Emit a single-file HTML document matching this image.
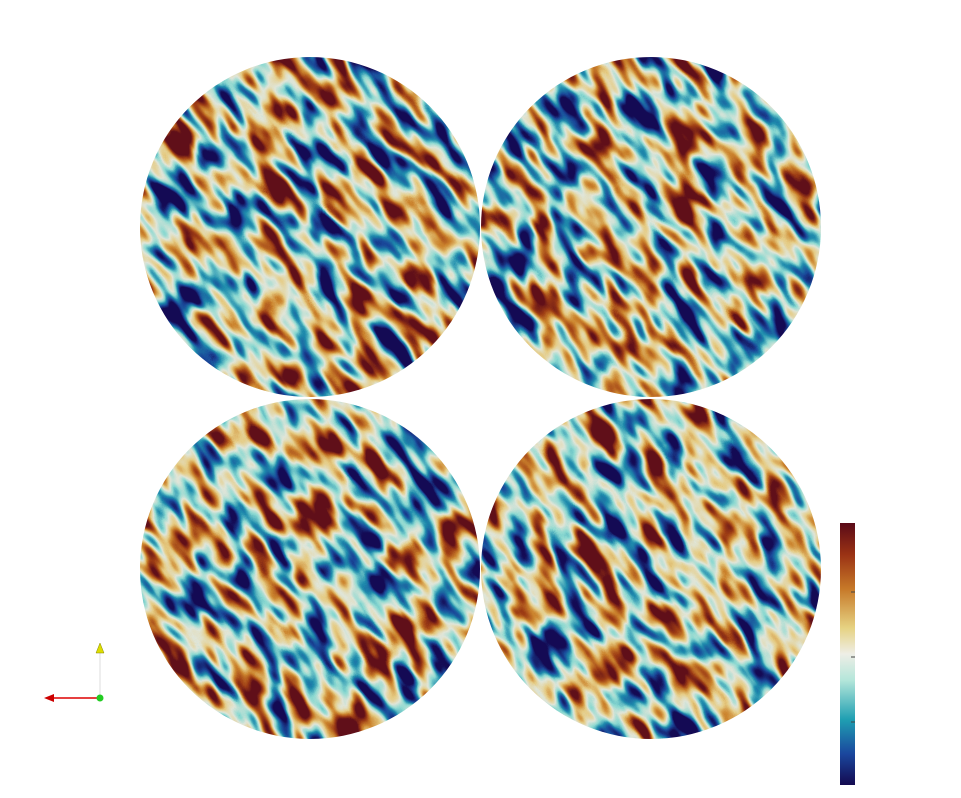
<!DOCTYPE html>
<html><head><meta charset="utf-8"><style>
html,body{margin:0;padding:0;background:#fff;width:961px;height:798px;overflow:hidden}
svg{display:block;overflow:hidden}
</style></head><body>
<svg width="961" height="798" viewBox="0 0 961 798">
<defs>
<linearGradient id="cmap" x1="0" y1="1" x2="0" y2="0">
<stop offset="0" stop-color="#140a50"/><stop offset="0.12" stop-color="#1a479e"/>
<stop offset="0.25" stop-color="#1f9fb2"/><stop offset="0.4" stop-color="#b4e6da"/>
<stop offset="0.5" stop-color="#eeeee6"/><stop offset="0.6" stop-color="#e6d282"/>
<stop offset="0.75" stop-color="#c67828"/><stop offset="0.88" stop-color="#9a3214"/>
<stop offset="1" stop-color="#5a0a18"/>
</linearGradient>
</defs>
<g id="disks"></g>
<g>
<rect x="840" y="523" width="15" height="262" fill="url(#cmap)"/>
<g stroke="#444" stroke-width="1">
<line x1="851" y1="592" x2="855" y2="592"/><line x1="851" y1="657" x2="855" y2="657"/><line x1="851" y1="722" x2="855" y2="722"/>
</g>
</g>
<g>
<line x1="100" y1="698" x2="52" y2="698" stroke="#d00" stroke-width="1.5"/>
<polygon points="44,698 54,694 54,702" fill="#c00"/>
<line x1="100" y1="698" x2="100" y2="652" stroke="#ddd" stroke-width="1"/>
<polygon points="100,643 96,653 104,653" fill="#dd0" stroke="#880" stroke-width="0.5"/>
<circle cx="100" cy="698" r="3.5" fill="#2c2"/>
</g>
</svg>
<script>
const diskCenters=[[310,227],[651,227],[310,569],[651,569]];
const seeds=[3,11,27,42];
const radius=170;
const ns="http://www.w3.org/2000/svg";
const defs=document.querySelector('defs');
const g=document.getElementById('disks');
const R="0.08 0.10 0.12 0.55 0.88 0.90 0.80 0.62 0.38";
const G="0.04 0.28 0.55 0.85 0.90 0.80 0.52 0.24 0.06";
const B="0.33 0.60 0.68 0.82 0.85 0.52 0.18 0.08 0.10";
const H=180;
diskCenters.forEach((c,i)=>{
  const [cx,cy]=c;
  defs.insertAdjacentHTML('beforeend',
  `<clipPath id="clip${i}"><circle cx="${cx}" cy="${cy}" r="${radius}"/></clipPath>
   <filter id="f${i}" filterUnits="userSpaceOnUse" x="${cx-H}" y="${cy-H}" width="${2*H}" height="${2*H}" color-interpolation-filters="sRGB">
    <feTurbulence type="fractalNoise" baseFrequency="0.05 0.02" numOctaves="2" seed="${seeds[i]}"/>
    <feColorMatrix type="matrix" values="1 0 0 0 0  1 0 0 0 0  1 0 0 0 0  0 0 0 0 1"/>
    <feComponentTransfer><feFuncR type="linear" slope="2.4" intercept="-0.7"/><feFuncG type="linear" slope="2.4" intercept="-0.7"/><feFuncB type="linear" slope="2.4" intercept="-0.7"/></feComponentTransfer>
    <feComponentTransfer><feFuncR type="table" tableValues="${R}"/><feFuncG type="table" tableValues="${G}"/><feFuncB type="table" tableValues="${B}"/></feComponentTransfer>
   </filter>`);
  const grp=document.createElementNS(ns,'g');
  grp.setAttribute('clip-path',`url(#clip${i})`);
  
  
  const inner=document.createElementNS(ns,'g');
  inner.setAttribute('transform',`rotate(-35 ${cx} ${cy})`);
  const r=document.createElementNS(ns,'rect');
  r.setAttribute('x',cx-H);r.setAttribute('y',cy-H);
  r.setAttribute('width',2*H);r.setAttribute('height',2*H);
  r.setAttribute('fill','#fff');
  r.setAttribute('filter',`url(#f${i})`);
  inner.appendChild(r);grp.appendChild(inner);g.appendChild(grp);
});
</script>
</body></html>
